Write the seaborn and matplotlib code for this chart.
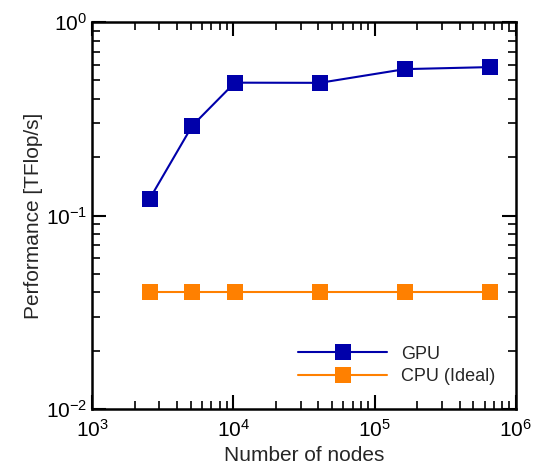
import pandas as pd
import numpy as np
import seaborn as sns
import matplotlib.pyplot as plt
from matplotlib.ticker import LogLocator, NullFormatter

nodes = [2560, 5120, 10240, 40960, 163840, 655360]
gpu_perf = [0.122, 0.291, 0.486, 0.485, 0.571, 0.585]
cpu_perf = [0.040, 0.040, 0.040, 0.040, 0.040, 0.040]
series_names = ['GPU', 'CPU (Ideal)']
colors = ['#0000AA', '#FF8000']

df = pd.DataFrame({
    'nodes': nodes * 2,
    'perf': gpu_perf + cpu_perf,
    'series': [series_names[0]] * len(nodes) + [series_names[1]] * len(nodes),
})

sns.set_style('ticks')
plt.rcParams['font.family'] = ['Liberation Sans', 'DejaVu Sans']
plt.rcParams['mathtext.fontset'] = 'custom'
plt.rcParams['mathtext.rm'] = 'Liberation Sans'
plt.rcParams['mathtext.it'] = 'Liberation Sans:italic'

fig = plt.figure(figsize=(5.38, 4.69), dpi=100)
ax = fig.add_axes([0.171, 0.128, 0.788, 0.825])

sns.lineplot(data=df, x='nodes', y='perf', hue='series', style='series',
             palette=dict(zip(series_names, colors)),
             markers={n: 's' for n in series_names}, dashes=False,
             markersize=12, markeredgewidth=0, linewidth=1.5, ax=ax, legend=False)

ax.set_xscale('log')
ax.set_yscale('log')
ax.set_xlim(1e3, 1e6)
ax.set_ylim(1e-2, 1e0)

# minor ticks at 2..9 of every decade
ax.xaxis.set_minor_locator(LogLocator(base=10, subs=np.arange(2, 10), numticks=20))
ax.yaxis.set_minor_locator(LogLocator(base=10, subs=np.arange(2, 10), numticks=20))
ax.xaxis.set_minor_formatter(NullFormatter())
ax.yaxis.set_minor_formatter(NullFormatter())

ax.tick_params(which='both', direction='in', top=True, right=True, labelsize=15,
               color='black', labelcolor='black')
ax.tick_params(which='major', length=10, width=1.5)
ax.tick_params(which='minor', length=6, width=1.2)
ax.tick_params(axis='x', which='major', pad=7)
for s in ax.spines.values():
    s.set_linewidth(1.8)
    s.set_color('black')

ax.set_xlabel('Number of nodes', fontsize=15, labelpad=4)
ax.set_ylabel('Performance [TFlop/s]', fontsize=15, labelpad=2)

handles = [plt.Line2D([], [], color=c, marker='s', markersize=12, markeredgewidth=0, linewidth=1.5)
           for c in colors]
ax.legend(handles, series_names, loc='lower right', bbox_to_anchor=(0.99, 0.02),
          frameon=False, fontsize=13, handlelength=4.9, handletextpad=0.8,
          labelspacing=0.3)

fig.savefig('out.png', dpi=100)
